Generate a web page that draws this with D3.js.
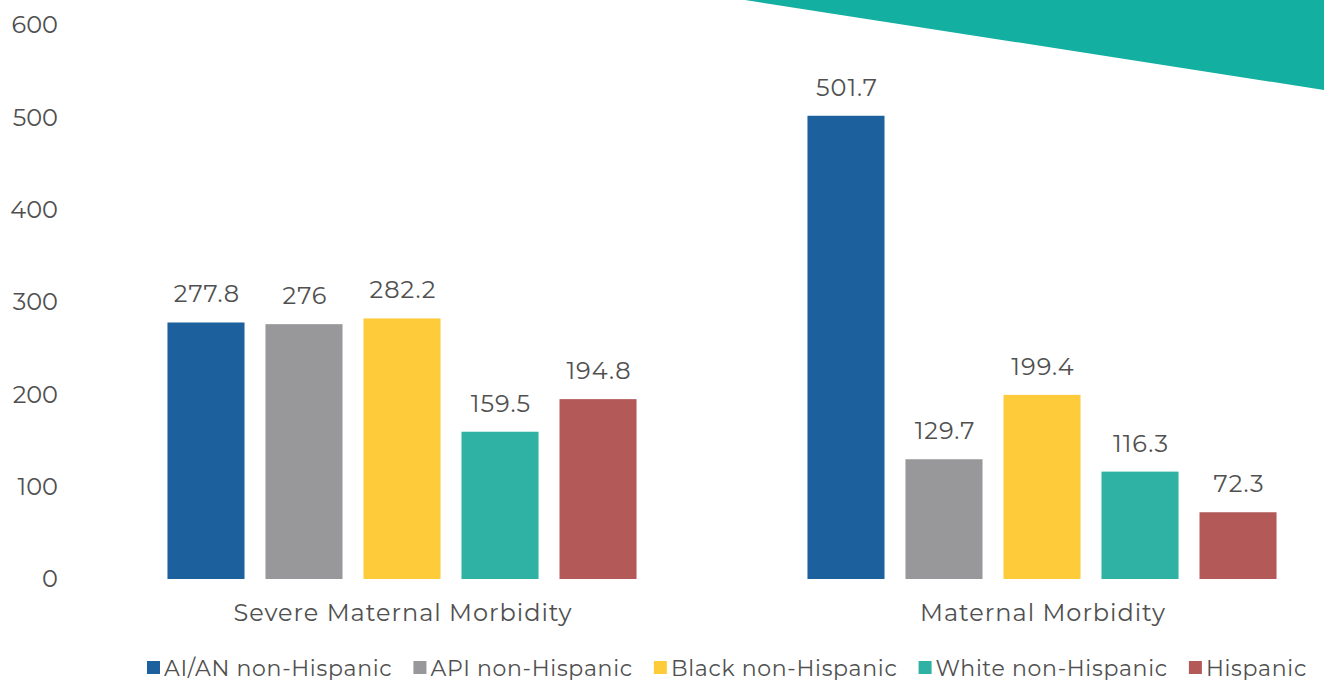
<!DOCTYPE html>
<html>
<head>
<meta charset="utf-8">
<script src="https://cdn.jsdelivr.net/npm/d3@7"></script>
<style>
  body { margin: 0; background: #fff; }
  svg text { font-family: "Montserrat", "Open Sans", sans-serif; fill: #505050; }
</style>
</head>
<body>
<svg id="chart" width="1324" height="681"></svg>
<script>
// Chart data
const categories = ["Severe Maternal Morbidity", "Maternal Morbidity"];
const seriesNames = ["AI/AN non-Hispanic", "API non-Hispanic", "Black non-Hispanic", "White non-Hispanic", "Hispanic"];
const seriesColors = ["#1c609e", "#98989a", "#fecb3a", "#2fb2a3", "#b35a59"];
const severeValues = [277.8, 276, 282.2, 159.5, 194.8];
const maternalValues = [501.7, 129.7, 199.4, 116.3, 72.3];
const yTicks = [0, 100, 200, 300, 400, 500, 600];

const valuesByCategory = [severeValues, maternalValues];

const svg = d3.select("#chart");

// Decorative teal wedge in the top right corner
svg.append("path")
    .attr("d", "M745,0 L1324,0 L1324,90 Z")
    .attr("fill", "#13afa0");

// Scales
const x0 = d3.scaleBand()
    .domain(categories)
    .range([82, 1362])
    .padding(0);

const x1 = d3.scaleBand()
    .domain(seriesNames)
    .range([0, x0.bandwidth()])
    .paddingInner(0.214)
    .paddingOuter(0.872);

const y = d3.scaleLinear()
    .domain([0, 600])
    .range([579, 25]);

// Y tick labels (no axis line)
svg.append("g")
    .selectAll("text")
    .data(yTicks)
    .enter()
    .append("text")
    .attr("x", 58)
    .attr("y", d => y(d))
    .attr("dy", "0.35em")
    .attr("text-anchor", "end")
    .style("font-size", "24px")
    .text(d => d);

// Bars and value labels
const groups = svg.selectAll(".group")
    .data(categories)
    .enter()
    .append("g")
    .attr("class", "group")
    .attr("transform", d => `translate(${x0(d)},0)`);

const cells = groups.selectAll(".cell")
    .data((c, ci) => seriesNames.map((s, si) => ({ series: s, color: seriesColors[si], value: valuesByCategory[ci][si] })))
    .enter();

cells.append("rect")
    .attr("x", d => x1(d.series))
    .attr("y", d => y(d.value))
    .attr("width", x1.bandwidth())
    .attr("height", d => y(0) - y(d.value))
    .attr("fill", d => d.color);

cells.append("text")
    .attr("x", d => x1(d.series) + x1.bandwidth() / 2 + 1)
    .attr("y", d => y(d.value) - 20)
    .attr("text-anchor", "middle")
    .style("font-size", "24px")
    .style("letter-spacing", "1px")
    .text(d => d.value);

// Category labels
svg.append("g")
    .selectAll("text")
    .data(categories)
    .enter()
    .append("text")
    .attr("x", d => x0(d) + x0.bandwidth() / 2 + 1)
    .attr("y", 621)
    .attr("text-anchor", "middle")
    .style("font-size", "24px")
    .style("letter-spacing", "1px")
    .text(d => d);

// Legend
const legend = svg.append("g").attr("class", "legend");
let lx = 147;
seriesNames.forEach((name, i) => {
    legend.append("rect")
        .attr("x", lx)
        .attr("y", 661)
        .attr("width", 13)
        .attr("height", 13)
        .attr("fill", seriesColors[i]);
    const t = legend.append("text")
        .attr("x", lx + 17)
        .attr("y", 676)
        .style("font-size", "22px")
        .style("letter-spacing", "0.7px")
        .text(name);
    lx += 17 + t.node().getComputedTextLength() + 21;
});
</script>
</body>
</html>
